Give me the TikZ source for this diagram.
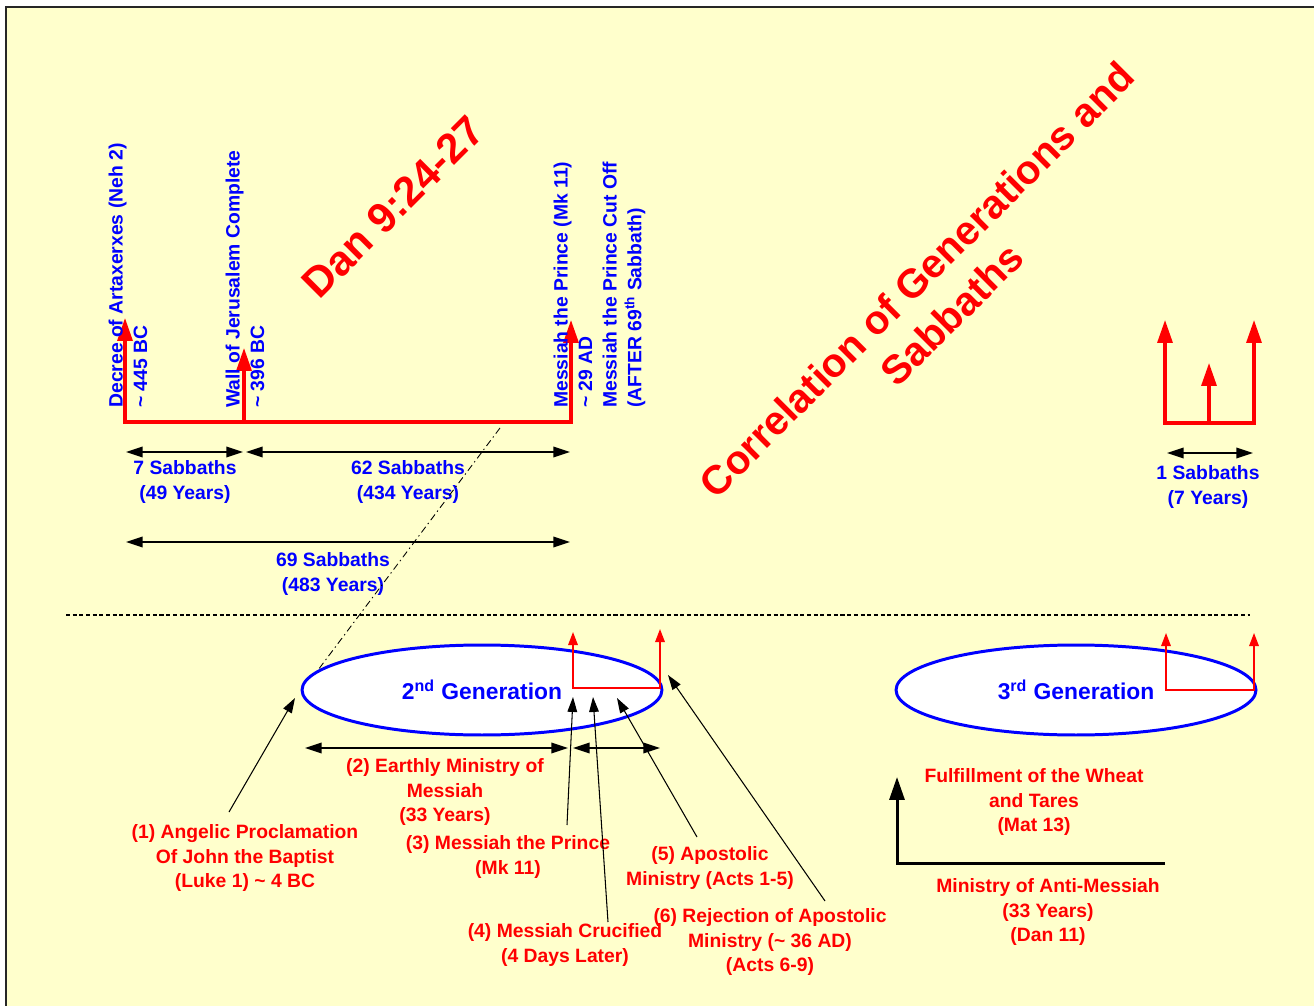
\documentclass[tikz,border=0pt]{standalone}
\usepackage{fontspec}
\setmainfont{Liberation Sans}
\usetikzlibrary{arrows.meta,shapes.geometric}
\definecolor{paper}{HTML}{FFFFCC}
\definecolor{textblue}{HTML}{0000FF}
\tikzset{
  bluetxt/.style={text=textblue, font=\bfseries\fontsize{11}{14}\selectfont, align=center, inner sep=0pt},
  redtxt/.style={text=red, font=\bfseries\fontsize{11}{14}\selectfont, align=center, inner sep=0pt},
  vlabel/.style={bluetxt, rotate=90, anchor=west, align=left},
  redline/.style={red, line width=1.8pt, line join=miter},
  bigtip/.style={-{Triangle[width=8.5pt,length=13pt]}},
  thinred/.style={red, line width=0.85pt, {Triangle[width=5.5pt,length=7.5pt]}-{Triangle[width=5.5pt,length=7.5pt]}},
  dimarrow/.style={black, line width=1pt, {Triangle[width=6pt,length=9.5pt]}-{Triangle[width=6pt,length=9.5pt]}},
  ptr/.style={black, line width=0.6pt, -{Triangle[width=5.5pt,length=8.5pt]}},
  gen/.style={ellipse, draw=textblue, line width=1.7pt, fill=white, minimum width=7.2cm, minimum height=1.8cm, inner sep=0pt, text=textblue, font=\bfseries\fontsize{13}{15}\selectfont}
}

\begin{document}
\begin{tikzpicture}[x=0.02cm, y=-0.02cm]
	%%%%% START %%%%%
	
	\useasboundingbox (0,0) rectangle (1314,1006);
	\fill[white] (0,0) rectangle (1314,1006);
	\fill[paper] (7,8) rectangle (1314,1006);
	\draw[line width=1.1pt, black!85] (6,1006) -- (6,7) -- (1314,7);
	
	% titles
	\node[rotate=45, text=red, font=\bfseries\fontsize{24}{28}\selectfont, inner sep=0pt] (dan) at (393,207) {Dan 9:24-27};
	\node[rotate=45, text=red, font=\bfseries\fontsize{23}{28}\selectfont, align=center, inner sep=0pt] (title) at (934,297) {Correlation of Generations and\\Sabbaths};
	
	% timeline of the sabbaths
	\draw[redline, {Triangle[width=8.5pt,length=13pt]}-{Triangle[width=8.5pt,length=13pt]}] (125,318) -- (125,422) -- (571,422) -- (571,320);
	\draw[redline, bigtip] (244,422) -- (244,348);
	
	\node[vlabel] (decree) at (128,408) {Decree of Artaxerxes (Neh 2)\\\textasciitilde{} 445 BC};
	\node[vlabel] (wall) at (245,408) {Wall of Jerusalem Complete\\\textasciitilde{} 396 BC};
	\node[vlabel] (prince) at (573,408) {Messiah the Prince (Mk 11)\\\textasciitilde{} 29 AD};
	\node[vlabel] (cutoff) at (624,408) {Messiah the Prince Cut Off\\(AFTER 69\textsuperscript{th} Sabbath)};
	
	\draw[dimarrow] (126,452) -- (243,452);
	\draw[dimarrow] (246,452) -- (570,452);
	\draw[dimarrow] (126,542) -- (570,542);
	\node[bluetxt] (s7) at (185,482) {7 Sabbaths\\(49 Years)};
	\node[bluetxt] (s62) at (408,482) {62 Sabbaths\\(434 Years)};
	\node[bluetxt] (s69) at (333,574) {69 Sabbaths\\(483 Years)};
	
	% one sabbath
	\draw[redline, {Triangle[width=8.5pt,length=13pt]}-{Triangle[width=8.5pt,length=13pt]}] (1165,320) -- (1165,423) -- (1254,423) -- (1254,320);
	\draw[redline, bigtip] (1209,423) -- (1209,363);
	\draw[dimarrow] (1167,453) -- (1253,453);
	\node[bluetxt] (s1) at (1208,487) {1 Sabbaths\\(7 Years)};
	
	% divider
	\draw[line width=0.9pt, dash pattern=on 2.3pt off 1.5pt] (66,615) -- (1250,615);
	\draw[line width=0.5pt, dash pattern=on 4pt off 2pt on 0.8pt off 2pt] (500,428) -- (303,690);
	
	% generations
	\node[gen] (gen2) at (482,690) {2\textsuperscript{nd} Generation};
	\node[gen] (gen3) at (1076,690) {3\textsuperscript{rd} Generation};
	\draw[thinred] (573,632) -- (573,688) -- (660,688) -- (660,629);
	\draw[thinred] (1166,633) -- (1166,690) -- (1254,690) -- (1254,633);
	
	\draw[dimarrow] (305,748) -- (568,748);
	\draw[dimarrow] (573,748) -- (660,748);
	
	% events of the 2nd generation
	\node[redtxt] (ev1) at (245,858) {(1) Angelic Proclamation\\Of John the Baptist\\(Luke 1) \textasciitilde{} 4 BC};
	\node[redtxt] (ev2) at (445,792) {(2) Earthly Ministry of\\Messiah\\(33 Years)};
	\node[redtxt] (ev3) at (508,857) {(3) Messiah the Prince\\(Mk 11)};
	\node[redtxt] (ev4) at (565,945) {(4) Messiah Crucified\\(4 Days Later)};
	\node[redtxt] (ev5) at (710,868) {(5) Apostolic\\Ministry (Acts 1-5)};
	\node[redtxt] (ev6) at (770,942) {(6) Rejection of Apostolic\\Ministry (\textasciitilde{} 36 AD)\\(Acts 6-9)};
	
	\coordinate (p1) at (229,812); \coordinate (t1) at (295,698);
	\coordinate (p3) at (567,825); \coordinate (t3) at (573,697);
	\coordinate (p4) at (608,922); \coordinate (t4) at (593,697);
	\coordinate (p5) at (697,837); \coordinate (t5) at (617,698);
	\coordinate (p6) at (825,901); \coordinate (t6) at (668,675);
	\draw[ptr] (p1) -- (t1);
	\draw[ptr] (p3) -- (t3);
	\draw[ptr] (p4) -- (t4);
	\draw[ptr] (p5) -- (t5);
	\draw[ptr] (p6) -- (t6);
	
	% anti-messiah
	\draw[black, line width=1.7pt, line join=miter, -{Triangle[width=8.5pt,length=13pt]}] (1165,863) -- (897,863) -- (897,777);
	\node[redtxt] (wheat) at (1034,802) {Fulfillment of the Wheat\\and Tares\\(Mat 13)};
	\node[redtxt] (anti) at (1048,912) {Ministry of Anti-Messiah\\(33 Years)\\(Dan 11)};
	
	%%%%% END %%%%%
\end{tikzpicture}
\end{document}
